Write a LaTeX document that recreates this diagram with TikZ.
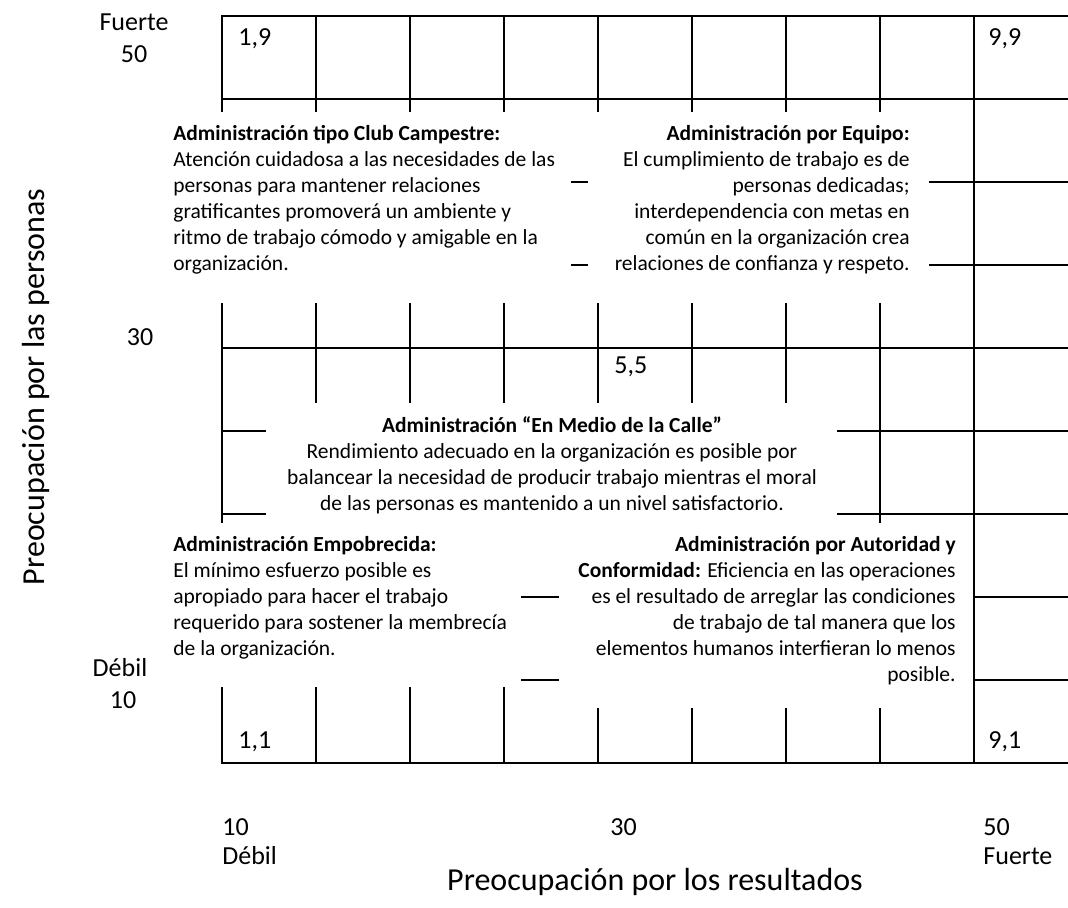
\documentclass[tikz,border=0pt]{standalone}
\usepackage{fontspec}
\setmainfont{Carlito}
\begin{document}
\begin{tikzpicture}[x=0.5pt,y=-0.5pt,
  gridline/.style={line width=1.4pt, line cap=rect},
  body/.style={font=\fontsize{10.75}{13}\selectfont, inner sep=0pt},
  lab/.style={font=\fontsize{13}{16}\selectfont, inner sep=0pt},
  ttl/.style={font=\fontsize{16}{19}\selectfont, inner sep=0pt}]
\useasboundingbox (0,0) rectangle (1068,907);
% horizontal lines (rows y = 16 + 83 j)
\draw[gridline] (222,16) -- (1068,16);
\draw[gridline] (222,99) -- (1068,99);
\draw[gridline] (572,182) -- (587,182);
\draw[gridline] (930,182) -- (1068,182);
\draw[gridline] (572,265) -- (587,265);
\draw[gridline] (930,265) -- (1068,265);
\draw[gridline] (222,348) -- (1068,348);
\draw[gridline] (222,431) -- (265,431);
\draw[gridline] (838,431) -- (1068,431);
\draw[gridline] (222,514) -- (265,514);
\draw[gridline] (838,514) -- (1068,514);
\draw[gridline] (522,597) -- (558,597);
\draw[gridline] (974,597) -- (1068,597);
\draw[gridline] (522,680) -- (558,680);
\draw[gridline] (974,680) -- (1068,680);
\draw[gridline] (222,763) -- (1068,763);
% vertical lines (columns x = 222 + 94 i)
\foreach \i in {0,...,7} {
  \draw[gridline] ({222+94*\i},16) -- ({222+94*\i},111);
}
\foreach \i in {1,...,6} {
  \draw[gridline] ({222+94*\i},304) -- ({222+94*\i},402);
}
\draw[gridline] (222,304) -- (222,522);
\draw[gridline] (880,304) -- (880,522);
\foreach \i in {0,...,3} {
  \draw[gridline] ({222+94*\i},688) -- ({222+94*\i},763);
}
\foreach \i in {4,...,7} {
  \draw[gridline] ({222+94*\i},709) -- ({222+94*\i},763);
}
\draw[gridline] (974,16) -- (974,763);
% cell labels
\node[lab, anchor=base west] (c19) at (238,45) {1,9};
\node[lab, anchor=base west] (c99) at (988,45) {9,9};
\node[lab, anchor=base west] (c55) at (614,373) {5,5};
\node[lab, anchor=base west] (c11) at (238,748) {1,1};
\node[lab, anchor=base west] (c91) at (988,748) {9,1};
% left axis
\node[lab, anchor=base] (yf) at (134,30) {Fuerte};
\node[lab, anchor=base] (y50) at (134,62) {50};
\node[lab, anchor=base] (y30) at (140,345) {30};
\node[lab, anchor=base] (yd) at (120,676) {Débil};
\node[lab, anchor=base] (y10) at (123,708) {10};
\node[ttl, rotate=90] (ytitle) at (36,387) {Preocupación por las personas};
% bottom axis
\node[lab, anchor=base west] (x10) at (222,835) {10};
\node[lab, anchor=base west] (xd) at (222,864) {Débil};
\node[lab, anchor=base west] (x30) at (610,835) {30};
\node[lab, anchor=base west] (x50) at (983,835) {50};
\node[lab, anchor=base west] (xf) at (983,864) {Fuerte};
\node[ttl] (xtitle) at (655,882) {Preocupación por los resultados};
% top-left block (anchor = baseline of last line)
\node[body, anchor=base west, align=left] (tl) at (173,270) {\textbf{Administración tipo Club Campestre:}\\
Atención cuidadosa a las necesidades de las\\
personas para mantener relaciones\\
gratificantes promoverá un ambiente y\\
ritmo de trabajo cómodo y amigable en la\\
organización.};
% top-right block
\node[body, anchor=base east, align=right] (tr) at (910,270) {\textbf{Administración por Equipo:}\\
El cumplimiento de trabajo es de\\
personas dedicadas;\\
interdependencia con metas en\\
común en la organización crea\\
relaciones de confianza y respeto.};
% middle block
\node[body, anchor=base, align=center] (mid) at (552,510) {\textbf{Administración “En Medio de la Calle”}\\
Rendimiento adecuado en la organización es posible por\\
balancear la necesidad de producir trabajo mientras el moral\\
de las personas es mantenido a un nivel satisfactorio.};
% bottom-left block
\node[body, anchor=base west, align=left] (bl) at (173,655) {\textbf{Administración Empobrecida:}\\
El mínimo esfuerzo posible es\\
apropiado para hacer el trabajo\\
requerido para sostener la membrecía\\
de la organización.};
% bottom-right block
\node[body, anchor=base east, align=right] (br) at (956,681) {\textbf{Administración por Autoridad y}\\
\textbf{Conformidad:} Eficiencia en las operaciones\\
es el resultado de arreglar las condiciones\\
de trabajo de tal manera que los\\
elementos humanos interfieran lo menos\\
posible.};
\end{tikzpicture}
\end{document}
